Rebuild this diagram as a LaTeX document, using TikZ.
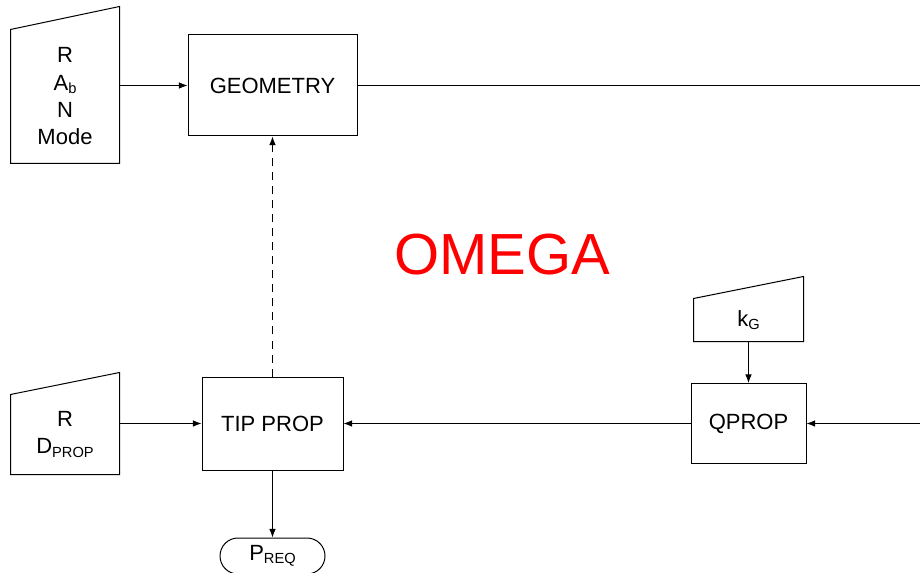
\documentclass[tikz,border=0pt]{standalone}
\usepackage{fontspec}
\setmainfont{Liberation Sans}
\usetikzlibrary{arrows.meta,calc}
\newcommand{\lowsub}[1]{\raisebox{-0.3ex}{\fontsize{11}{11}\selectfont #1}}
\begin{document}
\begin{tikzpicture}[x=0.75pt,y=-0.75pt,
  line width=0.75pt,
  every node/.style={inner sep=0pt, font=\fontsize{16.5}{20.5}\selectfont, align=center},
  box/.style={draw, rectangle},
  manin/.style={rectangle},
  term/.style={draw, rectangle, rounded corners=13.5pt},
  arr/.style={-{Latex[length=6.5pt,width=5pt]}},
  dsh/.style={dashed, dash pattern=on 6pt off 4.5pt}]
\useasboundingbox (0,0) rectangle (920,573);

% boxes
\node[box, minimum width=126.75pt, minimum height=75.75pt] (geo) at (272.5,85.5) {GEOMETRY};
\node[box, minimum width=105.75pt, minimum height=69.75pt] (tip) at (272.5,423.5) {TIP PROP};
\node[box, minimum width=86.25pt, minimum height=60pt] (qprop) at (748.5,423.5) {QPROP};
\node[term, minimum width=78.75pt, minimum height=27pt] (preq) at (272.5,556) {P\lowsub{REQ}};

% manual inputs
\node[manin, minimum width=81pt, minimum height=99.75pt] (mi1) at (65,96.5) {R\\A\lowsub{b}\\N\\Mode};
\node[manin, minimum width=81pt, minimum height=59.25pt] (mi2) at (65,434.5) {R\\D\lowsub{PROP}};
\node[manin, minimum width=81.75pt, minimum height=31.5pt] (kg) at (748.5,320) {k\lowsub{G}};
\draw (mi1.south west) -- (mi1.north west) -- ($(mi1.north east)+(0,-23)$) -- (mi1.south east) -- cycle;
\draw (mi2.south west) -- (mi2.north west) -- ($(mi2.north east)+(0,-22)$) -- (mi2.south east) -- cycle;
\draw (kg.south west) -- (kg.north west) -- ($(kg.north east)+(0,-22)$) -- (kg.south east) -- cycle;

% title
\node[text=red, font=\fontsize{43.5}{50}\selectfont] (omega) at (502,255) {OMEGA};

% edge coordinates
\coordinate (redge1) at (920,85.5);
\coordinate (redge2) at (920,423.5);

% connectors
\draw[arr] (mi1.east |- geo.west) -- (geo.west);
\draw (geo.east) -- (redge1);
\draw[arr, dsh] (tip.north) -- (geo.south);
\draw[arr] (mi2.east |- tip.west) -- (tip.west);
\draw[arr] (qprop.west) -- (tip.east);
\draw[arr] (redge2) -- (qprop.east);
\draw[arr] (kg.south) -- (qprop.north);
\draw[arr] (tip.south) -- (preq.north);
\end{tikzpicture}
\end{document}
